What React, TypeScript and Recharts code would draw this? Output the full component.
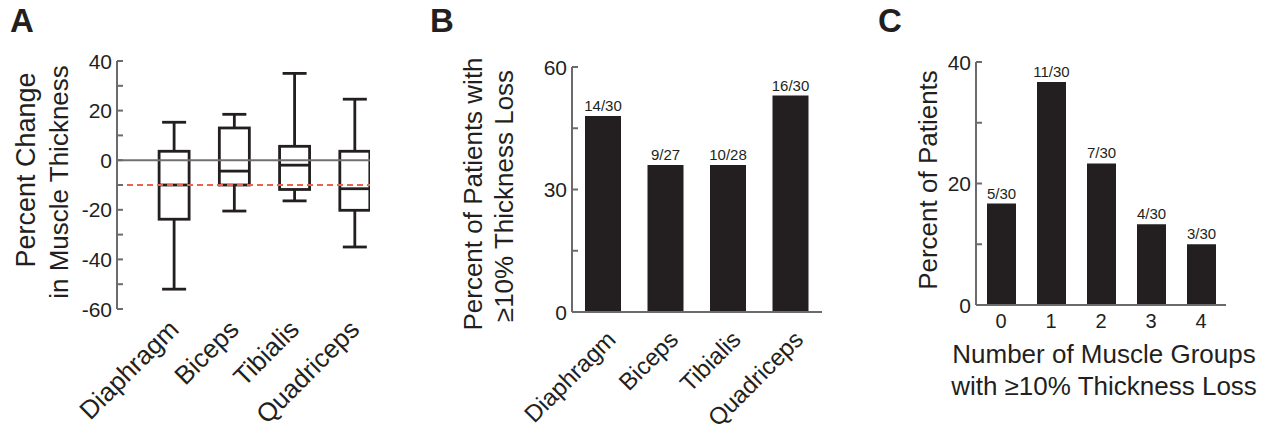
import React from 'react';
import { ComposedChart, BarChart, Bar, XAxis, YAxis, ReferenceLine, LabelList } from 'recharts';

// ---- Panel A: box plot data ----
const muscles = ['Diaphragm', 'Biceps', 'Tibialis', 'Quadriceps'];
const boxMin = [-52, -20.5, -16.4, -35];
const boxQ1 = [-23.8, -10, -11.8, -20.2];
const boxMedian = [-10, -4.4, -2, -11.5];
const boxQ3 = [3.6, 13, 5.6, 3.6];
const boxMax = [15.3, 18.5, 35, 24.6];
const changeTicks = [-60, -50, -40, -30, -20, -10, 0, 10, 20, 30, 40];
const changeLabeled = [-60, -40, -20, 0, 20, 40];
const lossThreshold = -10;

// ---- Panel B ----
const lossPercent = [48, 36, 36, 53];
const lossLabels = ['14/30', '9/27', '10/28', '16/30'];
const lossTicks = [0, 15, 30, 45, 60];
const lossLabeled = [0, 30, 60];

// ---- Panel C ----
const groupCounts = ['0', '1', '2', '3', '4'];
const groupPercent = [16.7, 36.7, 23.3, 13.3, 10];
const groupLabels = ['5/30', '11/30', '7/30', '4/30', '3/30'];
const groupTicks = [0, 10, 20, 30, 40];
const groupLabeled = [0, 20, 40];

const FONT = '"Liberation Sans", Arial, Helvetica, sans-serif';
const INK = '#231f20';
const AXIS = '#6b6b6b';

const boxData = muscles.map((m, i) => ({
  pos: i + 1,
  name: m,
  min: boxMin[i],
  q1: boxQ1[i],
  median: boxMedian[i],
  q3: boxQ3[i],
  max: boxMax[i],
}));
const lossData = muscles.map((m, i) => ({ name: m, value: lossPercent[i], label: lossLabels[i] }));
const groupData = groupCounts.map((c, i) => ({ name: c, value: groupPercent[i], label: groupLabels[i] }));

const BoxShape = (props: any) => {
  const { x, y, width, height, payload } = props;
  if (!payload || height == null) return null;
  const { min, q1, median, q3, max } = payload;
  const top = Math.min(y, y + height);
  const h = Math.abs(height);
  const ppu = h / (max - min);
  const py = (v: number) => top + (max - v) * ppu;
  const cx = x + width / 2;
  const capW = width * 0.8;
  const sw = 2.8;
  return (
    <g stroke={INK} strokeWidth={sw} fill="none">
      <line x1={cx} x2={cx} y1={py(max)} y2={py(q3)} />
      <line x1={cx} x2={cx} y1={py(q1)} y2={py(min)} />
      <line x1={cx - capW / 2} x2={cx + capW / 2} y1={py(max)} y2={py(max)} />
      <line x1={cx - capW / 2} x2={cx + capW / 2} y1={py(min)} y2={py(min)} />
      <rect x={x} y={py(q3)} width={width} height={py(q1) - py(q3)} />
      <line x1={x} x2={x + width} y1={py(median)} y2={py(median)} />
    </g>
  );
};

const makeYTick = (labeled: number[]) => (props: any) => {
  const { x, y, payload } = props;
  const v = payload.value;
  return (
    <g>
      <line x1={x} x2={x + 6} y1={y} y2={y} stroke={AXIS} strokeWidth={2} />
      {labeled.includes(v) && (
        <text x={x - 5} y={y} dy="0.36em" textAnchor="end" fontSize={21} fontFamily={FONT} fill={INK}>
          {v}
        </text>
      )}
    </g>
  );
};

const makeRotTick = (names: string[] | null, dx: number, dy: number, fontSize: number) => (props: any) => {
  const { x, y, payload } = props;
  const label = names ? names[Number(payload.value) - 1] : payload.value;
  return (
    <text
      transform={`translate(${x + dx},${y + dy}) rotate(-45)`}
      textAnchor="end"
      fontSize={fontSize}
      fontFamily={FONT}
      fill={INK}
    >
      {label}
    </text>
  );
};

const CountTick = (props: any) => {
  const { x, y, payload } = props;
  return (
    <text x={x} y={y + 23} textAnchor="middle" fontSize={20} fontFamily={FONT} fill={INK}>
      {payload.value}
    </text>
  );
};

export default function App() {
  return (
    <div style={{ position: 'absolute', left: 0, top: 0, width: 1279, height: 434, background: '#fff', overflow: 'hidden' }}>
      {/* Panel A */}
      <div style={{ position: 'absolute', left: 0, top: 0 }}>
        <ComposedChart width={420} height={434} data={boxData} margin={{ top: 61, right: 50, bottom: 95, left: 57 }}>
          <XAxis
            dataKey="pos"
            type="number"
            domain={[0.05, 4.25]}
            ticks={[1, 2, 3, 4]}
            interval={0}
            allowDataOverflow
            axisLine={false}
            tickLine={false}
            tickSize={0}
            tickMargin={0}
            height={30}
            tick={makeRotTick(muscles, 6, 22, 26)}
          />
          <YAxis
            type="number"
            domain={[-60, 40]}
            ticks={changeTicks}
            interval={0}
            width={60}
            axisLine={{ stroke: AXIS, strokeWidth: 2 }}
            tickLine={false}
            tickSize={0}
            tickMargin={0}
            tick={makeYTick(changeLabeled)}
          />
          <ReferenceLine y={0} stroke="#707070" strokeWidth={2} />
          <ReferenceLine y={lossThreshold} stroke="#e9614f" strokeWidth={2} strokeDasharray="6 4" />
          <Bar
            dataKey={(d: any) => [d.min, d.max]}
            barSize={30}
            shape={<BoxShape />}
            isAnimationActive={false}
          />
        </ComposedChart>
      </div>

      {/* Panel B */}
      <div style={{ position: 'absolute', left: 420, top: 0 }}>
        <BarChart width={430} height={434} data={lossData} margin={{ top: 67, right: 28, bottom: 92, left: 92 }}>
          <XAxis
            dataKey="name"
            interval={0}
            axisLine={{ stroke: AXIS, strokeWidth: 2 }}
            tickLine={false}
            tickSize={0}
            tickMargin={0}
            height={30}
            tick={makeRotTick(null, 14, 29, 24)}
          />
          <YAxis
            type="number"
            domain={[0, 60]}
            ticks={lossTicks}
            interval={0}
            width={60}
            axisLine={{ stroke: AXIS, strokeWidth: 2 }}
            tickLine={false}
            tickSize={0}
            tickMargin={0}
            tick={makeYTick(lossLabeled)}
          />
          <Bar dataKey="value" fill={INK} barSize={36} isAnimationActive={false}>
            <LabelList dataKey="label" position="top" offset={5} fontSize={15} fontFamily={FONT} fill={INK} />
          </Bar>
        </BarChart>
      </div>

      {/* Panel C */}
      <div style={{ position: 'absolute', left: 850, top: 0 }}>
        <BarChart width={429} height={434} data={groupData} margin={{ top: 62, right: 53, bottom: 99, left: 66 }}>
          <XAxis
            dataKey="name"
            interval={0}
            axisLine={{ stroke: AXIS, strokeWidth: 2 }}
            tickLine={false}
            tickSize={0}
            tickMargin={0}
            height={30}
            tick={CountTick}
          />
          <YAxis
            type="number"
            domain={[0, 40]}
            ticks={groupTicks}
            interval={0}
            width={60}
            axisLine={{ stroke: AXIS, strokeWidth: 2 }}
            tickLine={false}
            tickSize={0}
            tickMargin={0}
            tick={makeYTick(groupLabeled)}
          />
          <Bar dataKey="value" fill={INK} barSize={29} isAnimationActive={false}>
            <LabelList dataKey="label" position="top" offset={5} fontSize={15} fontFamily={FONT} fill={INK} />
          </Bar>
        </BarChart>
      </div>

      {/* Panel letters and axis titles */}
      <svg width={1279} height={434} style={{ position: 'absolute', left: 0, top: 0, pointerEvents: 'none' }} fontFamily={FONT} fill={INK}>
        <text x={10} y={32} fontSize={33} fontWeight="bold">A</text>
        <text x={430} y={32} fontSize={33} fontWeight="bold">B</text>
        <text x={878} y={32} fontSize={33} fontWeight="bold">C</text>

        <text transform="translate(35,170) rotate(-90)" textAnchor="middle" fontSize={27}>Percent Change</text>
        <text transform="translate(68,182) rotate(-90)" textAnchor="middle" fontSize={26}>in Muscle Thickness</text>

        <text transform="translate(482,194) rotate(-90)" textAnchor="middle" fontSize={26}>Percent of Patients with</text>
        <text transform="translate(513,196) rotate(-90)" textAnchor="middle" fontSize={26}>≥10% Thickness Loss</text>

        <text transform="translate(937,180) rotate(-90)" textAnchor="middle" fontSize={26}>Percent of Patients</text>

        <text x={1104} y={363} textAnchor="middle" fontSize={26}>Number of Muscle Groups</text>
        <text x={1104} y={395} textAnchor="middle" fontSize={26}>with ≥10% Thickness Loss</text>
      </svg>
    </div>
  );
}
